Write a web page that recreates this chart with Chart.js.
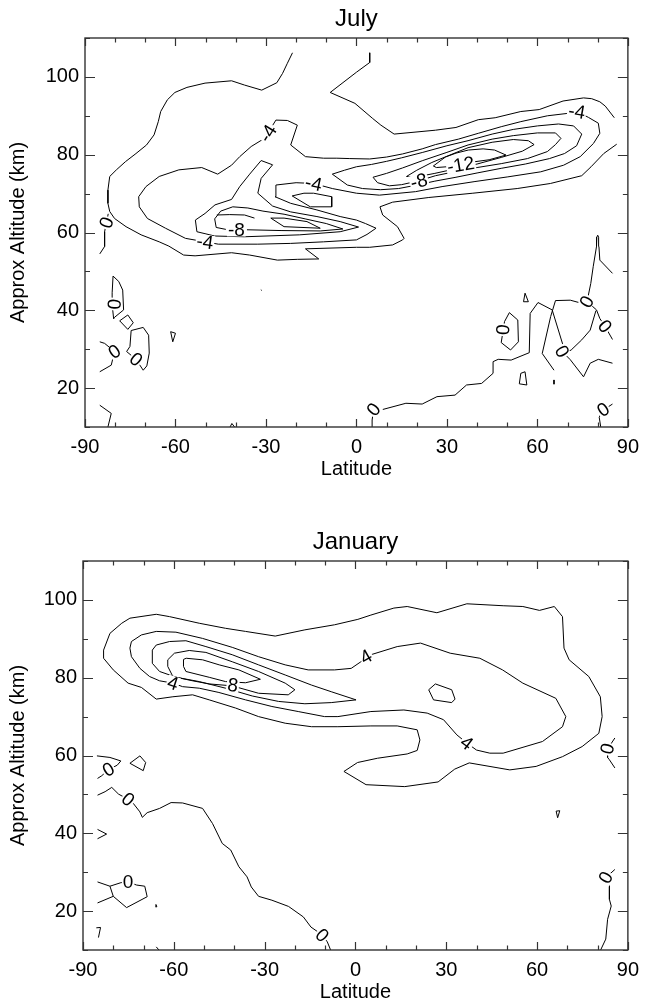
<!DOCTYPE html>
<html><head><meta charset="utf-8">
<script src="https://cdn.jsdelivr.net/npm/chart.js@4.4.1/dist/chart.umd.min.js"></script>
<style>
html,body{margin:0;padding:0;background:#fff;}
#wrap{position:relative;width:647px;height:1005px;overflow:hidden;}
.box{position:absolute;left:0;width:647px;height:482px;}
</style></head><body>
<div id="wrap">
<div class="box" style="top:0"><canvas id="c1"></canvas></div>
<div class="box" style="top:523px"><canvas id="c2"></canvas></div>
</div>
<script>
// ---------- axes ----------
const xTickLabels = [-90, -60, -30, 0, 30, 60, 90];
const yTickLabels = [20, 40, 60, 80, 100];
const xRange = [-90, 90];
const yRange = [10, 110];

// ---------- July contours [latitude, altitude] ----------
const julyM2West = [[-21.2,106.2],[-22.9,103.5],[-24.5,100.9],[-26.4,98.5],[-31.4,96.6],[-37.1,97.9],[-41.4,99.0],[-50.2,98.4],[-56.2,97.3],[-60.2,96.0],[-62.7,94.1],[-64.9,91.1],[-65.7,88.5],[-67.1,85.1],[-69.6,82.5],[-73.1,80.3],[-76.6,78.2],[-79.6,76.1],[-81.8,74.4],[-82.4,70.9],[-82.4,67.5],[-81.8,65.4],[-80.2,63.6],[-76.4,61.5],[-71.4,59.4],[-65.4,57.6],[-62.2,56.5],[-57.3,54.2],[-53.5,54.0],[-41.4,54.8],[-35.4,54.2],[-26.2,52.9],[-19.6,53.1],[-12.5,53.2],[-16.9,55.8],[0,56.2],[4.4,56.2],[12,56.8],[15.3,58.1],[15.8,58.5],[13.6,61.5],[8.7,64.5],[7.8,66.6],[12,67.8],[24,69.0],[38.6,70.1],[53.3,71.3],[64.3,72.6],[74.7,74.6],[77.8,76.9],[82,80.3],[86.3,82.7]];
const julyM2East = [[4.4,106.2],[4.4,103.7],[0,101.2],[-8.7,96.0],[-0.5,93.2],[5.4,89.3],[8.1,87.6],[12.5,85.3],[26.2,86.3],[33,87.0],[40.4,89.0],[46,89.5],[54.5,91.1],[60.6,91.6],[68.5,93.8],[75.3,94.6],[78,94.4],[80.7,93.6],[82.5,92.5],[85.5,89.5]];
const julyM4 = [[76.9,89.6],[73.1,91.1],[69.8,90.6],[63.3,90.0],[54.5,88.5],[48,87.2],[40.4,85.5],[33.8,84.0],[26.2,82.6],[21.8,81.5],[15.3,80.2],[10,79.4],[4.4,78.9],[-2.2,79.0],[-6.5,79.1],[-10.9,79.1],[-16.9,79.5],[-21.8,82.5],[-19.6,87.6],[-22.9,88.8],[-26.7,88.9],[-29.4,85.5],[-30.5,84.2],[-34.9,82.1],[-38.7,79.5],[-41.4,77.3],[-46,75.0],[-51.3,76.7],[-58.9,76.1],[-65.4,74.4],[-69.8,71.8],[-72.2,69.2],[-72,66.6],[-69.3,63.6],[-63.3,61.1],[-56.7,58.5],[-50.2,57.6],[-45.8,57.0],[-32.7,57.0],[-21.8,57.2],[-10.9,57.6],[0,58.1],[3.5,59.5],[6.5,61.1],[3,62.3],[0,63.2],[-5.4,64.1],[-13.1,65.8],[-21.8,67.5],[-27,69.2],[-26.7,72.2],[-20,72.8],[-14.2,72.6],[-8,71.3],[0,70.1],[7.6,69.6],[19.6,70.5],[28.4,71.8],[39.3,73.1],[50.2,74.3],[61.1,75.6],[68.7,77.3],[74.2,79.5],[78.6,82.9],[80.7,85.5],[80.2,88.1],[76.9,89.6]];
const julyM6East = [[-8,75.0],[-4,76.0],[0,76.9],[5,77.5],[10,78.3],[15,79.2],[22,80.6],[30,82.3],[37,83.6],[45,85.3],[52,86.5],[60,87.4],[67,87.9],[72,87.4],[74.7,85.3],[73,82.3],[69,80.3],[64,79.0],[56,77.6],[48,76.5],[40,75.3],[33,74.2],[26,73.2],[20,72.2],[14,71.3],[8,71.0],[2,71.3],[-3,72.2],[-8,75.0]];
const julyM8East = [[5.5,74.2],[10,75.2],[15.3,76.6],[22,78.5],[30,80.6],[37,82.5],[45,84.0],[52,84.9],[60,85.6],[66,85.6],[67.8,84.2],[66,82.6],[63.3,80.8],[56.7,79.0],[48,77.7],[40,76.7],[33,75.7],[26.2,74.6],[20.7,73.3],[15,72.3],[10.9,72.0],[7,72.8],[5.5,74.2]];
const julyM10East = [[16.6,74.4],[20,76.0],[25,78.0],[30,79.6],[37,81.8],[45,83.2],[52,83.9],[57,83.6],[58.9,82.6],[55,80.9],[48,79.3],[40,77.6],[33,76.4],[26,75.2],[20,74.3],[16.6,74.4]];
const julyM12East = [[25.5,77.1],[29.5,79.4],[33,80.4],[37.1,81.2],[42,81.5],[45.8,81.2],[49.6,79.9],[44,78.7],[39.3,78.2],[34.9,77.5],[30,76.9],[26.5,76.7],[25.5,77.1]];
const julyM6West = [[-52.9,60.2],[-53.4,63.2],[-50.2,64.9],[-46.9,67.1],[-41.4,68.5],[-38.7,71.8],[-35.4,75.0],[-31.6,78.5],[-27.8,77.4],[-31.6,73.9],[-32.7,70.1],[-27.8,66.8],[-21.8,65.3],[-13.1,64.1],[-5.4,62.8],[0.7,61.4],[-5.4,60.2],[-18.8,59.4],[-37.2,58.9],[-47,59.1],[-52.9,60.2]];
const julyM8West = [[-36.3,60.7],[-25,60.5],[-12,60.4],[-4.5,60.9],[-10,62.3],[-17,63.5],[-24,64.7],[-31,65.5],[-36,66.3],[-41,66.6],[-45,65.5],[-47,63.5],[-46.5,61.3],[-43.3,60.8]];
const julyM10WestA = [[-46.3,64.5],[-42,64.6],[-37.1,64.5],[-33.8,63.7]];
const julyM10WestB = [[-28.4,63.7],[-24,61.5],[-12,61.1],[-16.4,62.8],[-24,63.7],[-28.4,63.7]];
const julyNotch = [[-21.3,69.4],[-17.4,70.1],[-14.2,70.1],[-8.2,69.2],[-8.2,66.6],[-15.3,66.6],[-21.3,69.4]];
const julyZ1 = [[-82.3,64.8],[-82.9,62.5],[-83.5,60.2],[-83.5,56.4],[-85.1,54.5]];
const julyZ2 = [[-80.5,37.8],[-81,41.5],[-81,44.5],[-80.7,48.8],[-78.8,47.4],[-77.5,45.2],[-77.2,40.1],[-80.2,38.2],[-80.5,37.8]];
const julyZ3 = [[-78.5,37.3],[-75.8,38.8],[-74,36.8],[-75.8,35.1],[-78.5,37.3]];
const julyZ4 = [[-76.2,29.4],[-75.1,30.7],[-74.7,34.8],[-70.7,35.6],[-68.9,33.6],[-68.7,29.0],[-69.5,25.7],[-70.7,24.6],[-73.1,27.4],[-76.2,29.4]];
const julyZ5 = [[-85.1,31.9],[-83.5,31.5],[-80.2,29.4],[-81.3,25.9],[-85.1,24.2]];
const julyZ6 = [[-61.6,34.5],[-60,34.1],[-60.9,31.9],[-61.6,34.5]];
const julyZ7 = [[-85.1,15.6],[-81.3,13.5],[-82.4,10.0]];
const julyZ8 = [[-41.9,10.0],[-41.3,10.9],[-40.4,10.0]];
const julyZ9 = [[-31.7,45.3],[-31.4,45.1]];
const julyZ10 = [[5.2,10.0],[5.2,11.8],[5.7,14.5],[8.7,14.5],[16.4,16.1],[21.8,15.9],[26.7,17.8],[32.7,18.2],[36.5,20.8],[41.5,21.2],[45.3,23.8],[45.3,26.8],[47,27.4],[51.3,27.2],[57.3,29.1],[57.6,39.2],[60.2,42.0],[64.9,40.1],[68.7,30.5],[68.2,29.4],[70.9,27.3],[75.3,22.9],[77.5,26.4],[80.2,27.4],[84.9,26.4]];
const julyZ11 = [[84.9,49.5],[80.7,52.9],[80.4,56.4],[80.3,58.8],[80,59.3],[79.7,58.8],[79.6,56.4],[78.5,51.2],[77.7,46.9],[76.9,43.9],[76.4,42.2],[74.7,41.8],[70.9,42.6],[66,42.5],[64.4,38.4],[61.6,28.9],[65.5,24.6]];
const julyZ12 = [[76.4,42.2],[78,41.2],[79.6,40.1],[80.7,37.9],[82.4,35.9],[84.9,32.5]];
const julyZ13 = [[79.4,39.9],[77.5,34.9],[74.7,32.4],[71.2,29.8],[69.3,29.0]];
const julyZ14 = [[50.7,39.4],[53.5,37.5],[53.7,31.9],[51.1,29.8],[48,31.7],[49.1,37.1],[50.7,39.4]];
const julyZ15 = [[55.4,42.2],[55.9,44.4],[57,42.2],[55.4,42.2]];
const julyZ16 = [[54.5,23.8],[55.9,24.2],[56.5,20.8],[54,21.1],[54.5,23.8]];
const julyZ17 = [[65.5,22.1],[65.5,21.0]];
const julyZ18 = [[84.9,15.9],[83.5,15.2],[81.8,14.5],[80.5,12.5],[81,10.0]];
const julyLines = [julyM2West, julyM2East, julyM4, julyM6East, julyM8East, julyM10East, julyM12East,
  julyM6West, julyM8West, julyM10WestA, julyM10WestB, julyNotch, julyZ1, julyZ2, julyZ3, julyZ4, julyZ5,
  julyZ6, julyZ7, julyZ8, julyZ9, julyZ10, julyZ11, julyZ12, julyZ13, julyZ14, julyZ15, julyZ16, julyZ17, julyZ18];
// [text, latitude, altitude, rotation deg]
const julyLabels = [['-4',-29.4,85.5,-58],['-4',-50.2,57.6,8],['-4',-14.2,72.6,12],['-8',-39.8,60.8,0],
  ['-4',73.1,91.1,10],['-8',20.7,73.2,-15],['-12',34.6,77.4,-10],
  ['0',-82.9,62.5,-70],['0',-80.2,41.6,-85],['0',-80.2,29.4,-35],['0',-73.1,27.4,40],['0',48.6,35.0,-85],
  ['0',76.4,42.2,-60],['0',82.4,35.9,50],['0',68.2,29.4,60],['0',5.7,14.5,-50],['0',81.8,14.5,-35]];

// ---------- January contours ----------
const janP2 = [[-83.2,87.1],[-81.1,91.4],[-77.2,94.0],[-74.5,95.3],[-65.8,96.3],[-61.4,95.7],[-51.6,94.0],[-42.9,92.7],[-36.3,91.9],[-26.5,90.7],[-16.7,92.3],[-6.9,93.6],[0.8,95.0],[5.1,96.1],[12.7,97.9],[17.1,98.3],[26.9,96.7],[36.8,99.0],[48.8,98.5],[55.3,98.3],[60.8,97.3],[65.7,98.3],[68.4,95.7],[68.9,87.6],[70.6,84.6],[77.1,80.3],[80.9,75.1],[81.5,70.0],[80.4,65.7],[74.9,62.3],[68.4,59.7],[59.7,57.2],[51,56.3],[37.6,58.1],[32.8,56.5],[27.3,53.2],[16.3,52.0],[3.5,52.5],[-3.8,55.9],[0.7,58.2],[7.3,59.3],[17.1,60.4],[20.4,61.3],[21.3,64.0],[20.4,66.6],[13.8,67.6],[5.1,67.6],[-5.8,67.4],[-14.5,67.4],[-23.2,68.3],[-32,70.0],[-39.6,72.2],[-48.3,74.3],[-53.8,75.6],[-60.3,75.1],[-65.8,74.5],[-70.7,77.5],[-75.1,78.6],[-80,82.0],[-83.2,85.0],[-83.2,87.1]];
const janP4 = [[-74.5,87.6],[-74,89.3],[-70.7,91.0],[-65.8,91.9],[-59.3,91.7],[-50.5,90.1],[-40.7,87.8],[-32,85.4],[-23.2,83.3],[-15.6,82.0],[-6.9,82.0],[-1.4,82.4],[1.8,84.1],[3.5,85.4],[5.1,85.9],[13.8,88.0],[21.5,88.9],[31.3,86.3],[41.1,85.0],[48.6,82.0],[55.3,78.6],[66.2,74.7],[69.5,70.0],[68.4,67.4],[61.8,63.6],[48.8,60.6],[44.4,60.6],[40,61.4],[36.8,63.2],[33.5,65.3],[29.1,69.2],[23.7,70.9],[16,71.7],[5.1,71.3],[-5.8,70.0],[-10.2,70.0],[-18.9,71.3],[-27.6,72.6],[-36.3,74.3],[-45.1,76.2],[-51.6,77.3],[-57.1,77.7],[-60.3,78.6],[-64.7,79.2],[-68,80.3],[-71.2,82.4],[-74,85.4],[-74.5,87.6]];
const janP6 = [[-67.1,87.1],[-65.8,88.4],[-61.4,89.3],[-56,89.5],[-49.4,88.0],[-40.7,85.9],[-32,83.3],[-23.2,80.7],[-14.5,78.1],[-8,76.4],[0.2,74.3],[-8,73.6],[-16.7,73.3],[-25.4,73.9],[-34.1,75.3],[-42.9,77.3],[-51.6,79.0],[-59.2,80.1],[-64.7,81.6],[-67.1,83.7],[-67.1,87.1]];
const janP8 = [[-62,84.6],[-59.8,86.3],[-54.9,87.0],[-49.4,86.5],[-40.7,84.1],[-32,81.6],[-23.2,78.6],[-20,76.9],[-22.2,75.6],[-32,76.0],[-40.7,77.9],[-48.3,78.4],[-53.8,79.2],[-60.3,80.3],[-62,82.9],[-62,84.6]];
const janP10 = [[-56.8,84.7],[-55.9,85.0],[-50.5,84.6],[-45,83.3],[-38.5,82.0],[-31.4,79.6],[-36.3,78.7],[-42.9,79.0],[-48.3,80.1],[-56,81.6],[-56.8,82.9],[-56.8,84.7]];
const janIsle = [[24.2,76.9],[26.4,78.4],[31.8,76.9],[32.9,74.5],[31.8,73.6],[25.8,74.3],[24.2,76.9]];
const janZ1 = [[85.7,64.5],[84,62.5],[83.2,61.7],[83.3,59.5],[83.9,58.9],[85.7,56.8]];
const janZ2 = [[-85.4,59.9],[-81.1,59.5],[-77.5,58.6],[-78.7,57.5],[-81.6,56.4],[-83.8,54.8],[-85.2,54.1]];
const janZ3 = [[-74.5,58.0],[-71.2,59.9],[-69.3,58.2],[-70.1,56.1],[-74.5,58.0]];
const janZ4 = [[-85.2,49.8],[-82.7,50.7],[-80.5,51.8],[-78.3,50.1],[-75.1,48.7],[-73.4,47.7],[-71.2,45.5],[-70.4,44.1],[-68.8,45.3],[-64.7,46.4],[-60.9,47.9],[-57.1,47.8],[-50.5,46.4],[-47.2,42.5],[-44,37.4],[-41.2,35.7],[-38.5,31.4],[-35.8,28.8],[-34.4,26.2],[-32,23.8],[-27.6,22.8],[-22.1,21.2],[-17.2,18.5],[-14.7,15.9],[-12.3,14.6],[-11,13.8],[-9.3,12.1],[-8.2,10.0]];
const janZ5 = [[-85.2,41.0],[-82.2,39.8],[-85.2,38.6]];
const janZ6 = [[-85.2,27.5],[-81.1,26.4],[-77.5,27.3],[-75.1,27.5],[-72.3,26.7],[-69.6,26.4],[-68.8,23.7],[-75.6,20.9],[-80,23.8],[-85.2,22.1]];
const janZ7 = [[-81.1,26.4],[-80,23.8]];
const janZ8 = [[-65.9,21.7],[-65.6,21.1],[-66.0,21.1],[-65.9,21.7]];
const janZ9 = [[-85.6,15.7],[-84.2,15.8],[-84.9,13.2]];
const janZ10 = [[-65.8,10.8],[-64.9,10.0]];
const janZ11 = [[85.7,30.7],[82.7,28.6],[83.9,26.4],[83.9,23.0],[84.5,21.3],[83.3,17.9],[82.7,12.8],[81,10.0]];
const janZ12 = [[66.3,45.7],[67.5,45.8],[66.8,44.0],[66.3,45.7]];
const janLines = [janP2, janP4, janP6, janP8, janP10, janIsle, janZ1, janZ2, janZ3, janZ4, janZ5, janZ6,
  janZ7, janZ8, janZ9, janZ10, janZ11, janZ12];
const janLabels = [['4',-60.3,78.6,18],['8',-40.5,78.1,8],['4',3.5,85.4,-30],['4',36.8,63.2,37],
  ['0',83.2,61.7,-75],['0',-81.6,56.4,-30],['0',-75.1,48.7,40],['0',-75.1,27.5,0],['0',-11,13.8,45],['0',82.7,28.6,-60]];

// ---------- drawing ----------
const FONT = 'Liberation Sans, Arial, Helvetica, sans-serif';

const decoPlugin = {
  id: 'deco',
  afterDatasetsDraw(chart, args, opts) {
    const {ctx, chartArea: a, scales: {x, y}} = chart;
    ctx.save();
    ctx.font = '19px ' + FONT;
    ctx.textAlign = 'center';
    ctx.textBaseline = 'middle';
    for (const [t, lat, alt, rot] of opts.labels) {
      const px = x.getPixelForValue(lat), py = y.getPixelForValue(alt);
      ctx.save();
      ctx.translate(px, py);
      ctx.rotate(rot * Math.PI / 180);
      const w = ctx.measureText(t).width;
      ctx.fillStyle = '#fff';
      ctx.fillRect(-w / 2 - 1, -7, w + 2, 14);
      ctx.fillStyle = '#000';
      ctx.fillText(t, 0, 1);
      ctx.restore();
    }
    // frame
    ctx.strokeStyle = '#333';
    ctx.lineWidth = 1.4;
    ctx.strokeRect(a.left, a.top, a.right - a.left, a.bottom - a.top);
    // inward ticks on all four sides
    ctx.lineWidth = 1.2;
    ctx.beginPath();
    for (let v = xRange[0]; v <= xRange[1]; v += 10) {
      const px = Math.round(x.getPixelForValue(v)) + 0.5;
      const len = (v % 30 === 0) ? 8 : 4.5;
      ctx.moveTo(px, a.bottom); ctx.lineTo(px, a.bottom - len);
      ctx.moveTo(px, a.top); ctx.lineTo(px, a.top + len);
    }
    for (let v = yRange[0]; v <= yRange[1]; v += 10) {
      const py = Math.round(y.getPixelForValue(v)) + 0.5;
      const len = (v % 20 === 0) ? 10 : 5;
      ctx.moveTo(a.left, py); ctx.lineTo(a.left + len, py);
      ctx.moveTo(a.right, py); ctx.lineTo(a.right - len, py);
    }
    ctx.stroke();
    // plot title centred over the plot area
    ctx.font = '24px ' + FONT;
    ctx.fillStyle = '#000';
    ctx.textBaseline = 'alphabetic';
    ctx.fillText(opts.title, (a.left + a.right) / 2, opts.titleBase);
    ctx.restore();
  }
};

function makeChart(id, title, lines, labels, leftW, rightPad) {
  new Chart(document.getElementById(id), {
    type: 'scatter',
    data: {
      datasets: lines.map(l => ({
        data: l, showLine: true, borderColor: '#000', borderWidth: 1,
        pointRadius: 0, pointHoverRadius: 0, fill: false, tension: 0
      }))
    },
    options: {
      responsive: true, maintainAspectRatio: false, animation: false,
      events: [],
      layout: {padding: {left: 0, right: rightPad, top: 38, bottom: 0}},
      plugins: {
        legend: {display: false},
        tooltip: {enabled: false},
        title: {display: false},
        deco: {labels: labels, title: title, titleBase: 26}
      },
      scales: {
        x: {
          type: 'linear', min: xRange[0], max: xRange[1],
          afterBuildTicks: s => { s.ticks = xTickLabels.map(v => ({value: v})); },
          afterFit: s => { s.height = 55; },
          grid: {display: false, drawTicks: false},
          border: {display: false},
          ticks: {color: '#000', padding: 8, maxRotation: 0, autoSkip: false,
            font: {family: FONT, size: 20}, callback: v => String(v)},
          title: {display: true, text: 'Latitude', color: '#000',
            font: {family: FONT, size: 20}, padding: {top: 0, bottom: 1}}
        },
        y: {
          type: 'linear', min: yRange[0], max: yRange[1],
          afterBuildTicks: s => { s.ticks = yTickLabels.map(v => ({value: v})); },
          afterFit: s => { s.width = leftW; },
          grid: {display: false, drawTicks: false},
          border: {display: false},
          ticks: {color: '#000', padding: 6, autoSkip: false,
            font: {family: FONT, size: 20}, callback: v => String(v)},
          title: {display: true, text: 'Approx Altitude (km)', color: '#000',
            font: {family: FONT, size: 20}, padding: {top: 6, bottom: 0}}
        }
      }
    },
    plugins: [decoPlugin]
  });
}

makeChart('c1', 'July', julyLines, julyLabels, 85, 13);
makeChart('c2', 'January', janLines, janLabels, 83, 14);
</script>
</body></html>
